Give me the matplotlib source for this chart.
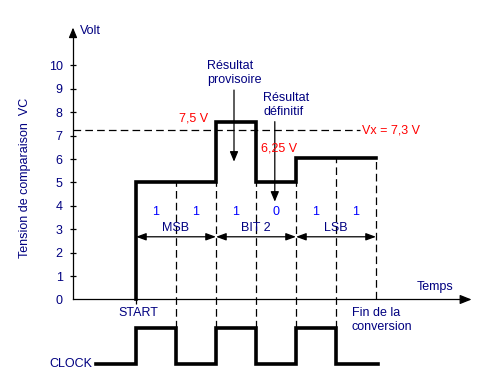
import matplotlib
matplotlib.use('Agg')
import matplotlib.pyplot as plt

plt.rcParams['font.family'] = ['Liberation Sans', 'DejaVu Sans']
plt.rcParams['lines.scale_dashes'] = False

NAVY = '#000080'
BLUE = '#0000FF'
RED = '#FF0000'

# staircase of the comparison voltage (time in clock half-periods, volts)
stair_t = [0, 0, 2, 2, 3, 3, 4, 4, 6]
stair_v = [0, 5, 5, 7.6, 7.6, 5, 5, 6.05, 6.05]

# clock signal (levels drawn below the time axis)
clock_t = [-1, 0, 0, 1, 1, 2, 2, 3, 3, 4, 4, 5, 5, 6.05]
clock_v = [-2.77, -2.77, -1.23, -1.23, -2.77, -2.77, -1.23, -1.23,
           -2.77, -2.77, -1.23, -1.23, -2.77, -2.77]

# vertical dashed markers: time, top, bottom
mark_t = [1, 2, 3, 4, 5, 6]
mark_top = [5, 5, 5, 5, 6.05, 6.05]
mark_bot = [-1.23, -1.23, -1.23, -1.23, -1.23, 0]

vx = 7.25
bits = ['1', '1', '1', '0', '1', '1']
bit_t = [0.5, 1.5, 2.5, 3.5, 4.5, 5.5]
groups = ['MSB', 'BIT 2', 'LSB']
group_start = [0, 2, 4]
group_end = [2, 4, 6]
yticks = list(range(0, 11))

x_axis = -1.575

fig = plt.figure(figsize=(4.97, 3.85), dpi=100)
ax = fig.add_axes([0, 0, 1, 1])
ax.set_xlim(-3.4, 9.025)
ax.set_ylim(-3.654, 12.799)
ax.patch.set_visible(False)

# axes lines
for s in ['top', 'right']:
    ax.spines[s].set_visible(False)
ax.spines['left'].set_position(('data', x_axis))
ax.spines['left'].set_bounds(0, 11.3)
ax.spines['bottom'].set_position(('data', 0))
ax.spines['bottom'].set_bounds(x_axis, 8.2)
for s in ['left', 'bottom']:
    ax.spines[s].set_linewidth(0.9)

ax.set_yticks(yticks)
ax.set_yticklabels([str(v) for v in yticks])
ax.tick_params(axis='y', direction='inout', length=5, width=0.9,
               pad=5, labelsize=9, labelcolor=NAVY)
ax.yaxis.get_major_ticks()[0].tick1line.set_visible(False)
ax.set_xticks([0])
ax.set_xticklabels([''])
ax.tick_params(axis='x', direction='out', length=3.6, width=0.9)

# axis arrow heads
ax.annotate('', xy=(x_axis, 11.62), xytext=(x_axis, 11.2),
            arrowprops=dict(arrowstyle='-|>,head_length=0.6,head_width=0.25',
                            color='black', lw=0.9, shrinkA=0, shrinkB=0,
                            mutation_scale=10))
ax.annotate('', xy=(8.39, 0), xytext=(8.1, 0),
            arrowprops=dict(arrowstyle='-|>,head_length=0.7,head_width=0.28',
                            color='black', lw=0.9, shrinkA=0, shrinkB=0,
                            mutation_scale=10))

# dashed lines
ax.plot([x_axis, 5.6], [vx, vx], color='black', lw=0.9, dashes=(5.5, 3))
for t, top, bot in zip(mark_t, mark_top, mark_bot):
    ax.plot([t, t], [bot, top], color='black', lw=0.9, dashes=(5.5, 3))

# staircase and clock
ax.plot(stair_t, stair_v, color='black', lw=2.6, solid_joinstyle='miter')
ax.plot(clock_t, clock_v, color='black', lw=2.6, solid_joinstyle='miter')

# double arrows under bits
for a, b, g in zip(group_start, group_end, groups):
    ax.annotate('', xy=(b, 2.68), xytext=(a, 2.68),
                arrowprops=dict(arrowstyle='<|-|>,head_length=0.6,head_width=0.22',
                                color='black', lw=0.9, shrinkA=0, shrinkB=0,
                                mutation_scale=10))
    ax.text((a + b) / 2, 3.06, g, color=NAVY, fontsize=9,
            ha='center', va='center')

for t, b in zip(bit_t, bits):
    ax.text(t, 3.75, b, color=BLUE, fontsize=9, ha='center', va='center')

# result arrows
ax.annotate('', xy=(2.45, 5.89), xytext=(2.45, 8.95),
            arrowprops=dict(arrowstyle='-|>,head_length=0.6,head_width=0.25',
                            color='black', lw=0.9, shrinkA=0, shrinkB=0,
                            mutation_scale=10))
ax.annotate('', xy=(3.47, 4.18), xytext=(3.47, 7.6),
            arrowprops=dict(arrowstyle='-|>,head_length=0.6,head_width=0.25',
                            color='black', lw=0.9, shrinkA=0, shrinkB=0,
                            mutation_scale=10))

# texts
ax.text(-1.4, 11.47, 'Volt', color=NAVY, fontsize=9, ha='left', va='center')
ax.text(-2.775, 5.19, 'Tension de comparaison  VC', color=NAVY, fontsize=9,
        rotation=90, ha='center', va='center')
ax.text(1.45, 7.74, '7,5 V', color=RED, fontsize=9, ha='center', va='center')
ax.text(3.575, 6.46, '6,25 V', color=RED, fontsize=9, ha='center', va='center')
ax.text(5.65, 7.21, 'Vx = 7,3 V', color=RED, fontsize=9, ha='left', va='center')
ax.text(1.775, 9.67, 'Résultat\nprovisoire', color=NAVY, fontsize=9,
        ha='left', va='center', linespacing=1.25)
ax.text(3.175, 8.3, 'Résultat\ndéfinitif', color=NAVY, fontsize=9,
        ha='left', va='center', linespacing=1.25)
ax.text(0.07, -0.58, 'START', color=NAVY, fontsize=9, ha='center', va='center')
ax.text(5.4, -0.89, 'Fin de la\nconversion', color=NAVY, fontsize=9,
        ha='left', va='center', linespacing=1.25)
ax.text(7.475, 0.53, 'Temps', color=NAVY, fontsize=9, ha='center', va='center')
ax.text(-1.1, -2.76, 'CLOCK', color=NAVY, fontsize=9, ha='right', va='center')

fig.savefig('out.png', dpi=100, facecolor='white')
